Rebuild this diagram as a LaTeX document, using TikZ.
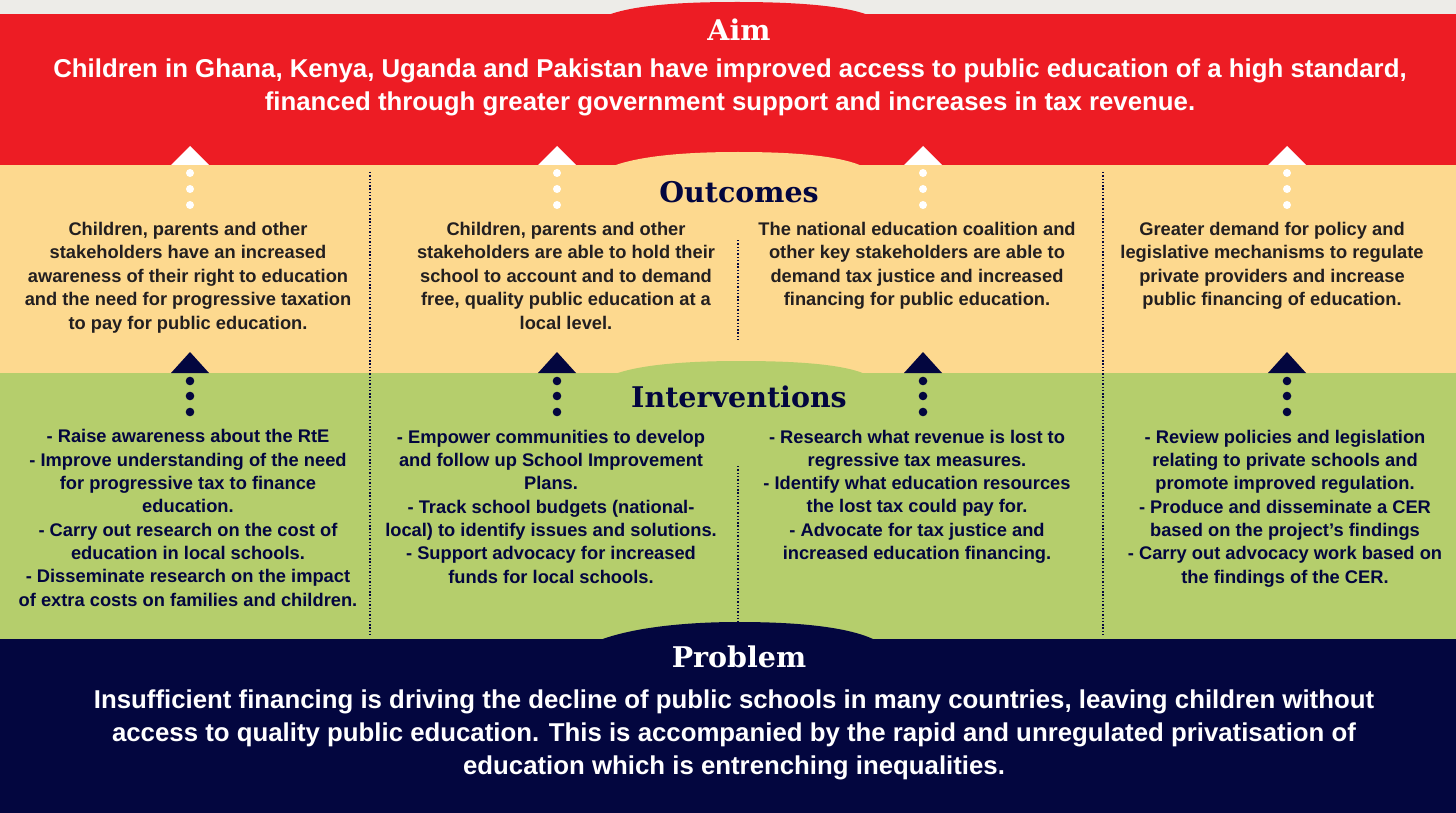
\documentclass[tikz,border=0pt]{standalone}
\usepackage{fontspec}
\setmainfont{Liberation Sans}
\newfontfamily\headfont{DejaVu Serif}
\usepackage{tikz}
\usetikzlibrary{positioning}

\definecolor{aimred}{HTML}{ED1C24}
\definecolor{outyellow}{HTML}{FDD98F}
\definecolor{intgreen}{HTML}{B5CE6C}
\definecolor{probnavy}{HTML}{03063F}
\definecolor{topgray}{HTML}{EDECE8}
\definecolor{darkink}{HTML}{231F20}

% multi-line nodes sit on the baseline of their last line
\tikzstyle{heading} = [inner sep=0pt, anchor=base,
font=\headfont\bfseries\fontsize{28.5}{30}\selectfont]
\tikzstyle{bigtext} = [inner sep=0pt, anchor=base, align=center, text=white,
font=\bfseries\fontsize{25.8}{33}\selectfont]
\tikzstyle{outtext} = [inner sep=0pt, anchor=base, align=center, text=darkink,
font=\bfseries\fontsize{18.3}{23.5}\selectfont]
\tikzstyle{inttext} = [inner sep=0pt, anchor=base, align=center, text=probnavy,
font=\bfseries\fontsize{18.3}{23.3}\selectfont]
\tikzstyle{separator} = [probnavy, line width=1.8pt, dash pattern=on 1.4pt off 1.9pt]

\begin{document}
\begin{tikzpicture}[x=1pt, y=-1pt]
    \useasboundingbox (0,0) rectangle (1456,813);

    % Bands
    \fill[topgray] (0,0) rectangle (1456,14);
    \fill[aimred] (0,14) rectangle (1456,165);
    \fill[aimred] (608,15) .. controls (640,3) and (700,2) .. (738,2)
        .. controls (780,2) and (840,4) .. (868,15) -- cycle;
    \fill[outyellow] (0,165) rectangle (1456,373);
    \fill[outyellow] (613,166) .. controls (645,154) and (700,152) .. (738,152)
        .. controls (780,152) and (835,154) .. (862,166) -- cycle;
    \fill[intgreen] (0,373) rectangle (1456,639);
    \fill[intgreen] (615,374) .. controls (645,363) and (700,361) .. (740,361)
        .. controls (785,361) and (840,363) .. (865,374) -- cycle;
    \fill[probnavy] (0,639) rectangle (1456,813);
    \fill[probnavy] (600,640) .. controls (640,625) and (700,622) .. (738,622)
        .. controls (785,622) and (845,625) .. (875,640) -- cycle;

    % Column separators
    \draw[separator] (370,172) -- (370,637);
    \draw[separator] (1103,172) -- (1103,637);
    \draw[separator] (738,240) -- (738,340);
    \draw[separator] (738,466) -- (738,637);

    % Arrows up to the aim and to the outcomes
    \foreach \x in {190,557,923,1287} {
        \fill[white] (\x-19,165) -- (\x,146) -- (\x+19,165) -- cycle;
        \foreach \y in {173,189,205}
            \fill[white] (\x,\y) circle (4pt);
        \fill[probnavy] (\x-19,373) -- (\x,352) -- (\x+19,373) -- cycle;
        \foreach \y in {381,396,412}
            \fill[probnavy] (\x,\y) circle (4.3pt);
    }

    % Headings
    \node (aim) [heading, text=white] at (739,41) {Aim};
    \node (outcomes) [heading, text=probnavy] at (739,203) {Outcomes};
    \node (interventions) [heading, text=probnavy] at (739,407) {Interventions};
    \node (problem) [heading, text=white] at (739,667) {Problem};

    % Aim
    \node (aimtext) [bigtext] at (730,111) {Children in Ghana, Kenya, Uganda and Pakistan have improved access to public education of a high standard,\\financed through greater government support and increases in tax revenue.};

    % Outcomes
    \node (out1) [outtext] at (188,329) {Children, parents and other\\stakeholders have an increased\\awareness of their right to education\\and the need for progressive taxation\\to pay for public education.};
    \node (out2) [outtext] at (566,329) {Children, parents and other\\stakeholders are able to hold their\\school to account and to demand\\free, quality public education at a\\local level.};
    \node (out3) [outtext] at (917,305.5) {The national education coalition and\\other key stakeholders are able to\\demand tax justice and increased\\financing for public education.};
    \node (out4) [outtext] at (1272,305.5) {Greater demand for policy and\\legislative mechanisms to regulate\\private providers and increase\\public financing of education.};

    % Interventions
    \node (int1) [inttext] at (188,606) {- Raise awareness about the RtE\\- Improve understanding of the need\\for progressive tax to finance\\education.\\- Carry out research on the cost of\\education in local schools.\\- Disseminate research on the impact\\of extra costs on families and children.};
    \node (int2) [inttext] at (551,583) {- Empower communities to develop\\and follow up School Improvement\\Plans.\\- Track school budgets (national-\\local) to identify issues and solutions.\\- Support advocacy for increased\\funds for local schools.};
    \node (int3) [inttext] at (917,559.5) {- Research what revenue is lost to\\regressive tax measures.\\- Identify what education resources\\the lost tax could pay for.\\- Advocate for tax justice and\\increased education financing.};
    \node (int4) [inttext] at (1285,583) {- Review policies and legislation\\relating to private schools and\\promote improved regulation.\\- Produce and disseminate a CER\\based on the project’s findings\\- Carry out advocacy work based on\\the findings of the CER.};

    % Problem
    \node (probtext) [bigtext] at (734,774) {Insufficient financing is driving the decline of public schools in many countries, leaving children without\\access to quality public education. This is accompanied by the rapid and unregulated privatisation of\\education which is entrenching inequalities.};

\end{tikzpicture}
\end{document}
